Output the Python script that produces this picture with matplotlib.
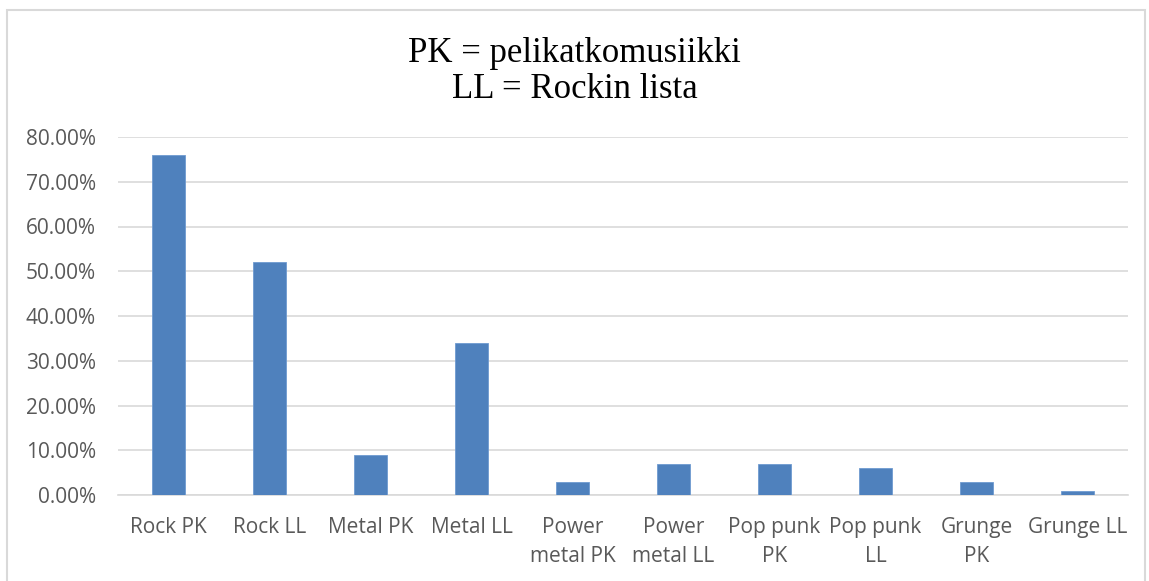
import matplotlib
matplotlib.use("Agg")
import matplotlib.pyplot as plt
from matplotlib.patches import Rectangle
from matplotlib.ticker import FuncFormatter
import numpy as np

CATEGORIES = ["Rock PK", "Rock LL", "Metal PK", "Metal LL", "Power\nmetal PK",
              "Power\nmetal LL", "Pop punk\nPK", "Pop punk\nLL", "Grunge\nPK", "Grunge LL"]
SHARES = [76, 52, 9, 34, 3, 7, 7, 6, 3, 1]
Y_TICKS = [0, 10, 20, 30, 40, 50, 60, 70, 80]
TITLE = "PK = pelikatkomusiikki\nLL = Rockin lista"

BAR_COLOR = "#4f81bd"
GRID_COLOR = "#d9d9d9"
TEXT_COLOR = "#595959"
LABEL_FONT = ["Open Sans", "DejaVu Sans"]

fig = plt.figure(figsize=(11.49, 5.81), dpi=100)
ax = fig.add_axes([118 / 1149, 1 - 495 / 581, (1128 - 118) / 1149, (495 - 137) / 581])

x = np.arange(len(CATEGORIES))
ax.bar(x, SHARES, width=0.32, color=BAR_COLOR, edgecolor="#6f9ad0", linewidth=0.6, zorder=3)

ax.set_xlim(-0.5, len(CATEGORIES) - 0.5)
ax.set_ylim(0, 80)
ax.set_yticks(Y_TICKS)
ax.yaxis.set_major_formatter(FuncFormatter(lambda v, _: f"{v:.2f}%"))
ax.set_xticks(x)
ax.set_xticklabels(CATEGORIES, linespacing=1.5)
ax.tick_params(axis="both", length=0, colors=TEXT_COLOR, labelsize=15)
ax.tick_params(axis="x", pad=16)
ax.tick_params(axis="y", pad=16)
for lab in ax.get_xticklabels() + ax.get_yticklabels():
    lab.set_family(LABEL_FONT)
    lab.set_color(TEXT_COLOR)
for lab in ax.get_xticklabels():
    lab.set_verticalalignment("top")

ax.grid(axis="y", color=GRID_COLOR, linewidth=1.2, zorder=0)
ax.grid(axis="x", visible=False)
for sp in ("top", "right", "left"):
    ax.spines[sp].set_visible(False)
ax.spines["bottom"].set_color(GRID_COLOR)
ax.spines["bottom"].set_linewidth(1.2)

fig.text(0.5, 1 - 71 / 581, TITLE, ha="center", va="center", fontsize=25,
         family=["Liberation Serif", "DejaVu Serif"], color="black", linespacing=1.12)

# chart-area frame (runs past the bottom of the image, as in the source)
fig.patches.append(Rectangle((7 / 1149, -0.05), (1145 - 7) / 1149, 1.05 - 10 / 581,
                             transform=fig.transFigure, fill=False,
                             edgecolor="#d9d9d9", linewidth=1.5))

fig.savefig("out.png", dpi=100)
